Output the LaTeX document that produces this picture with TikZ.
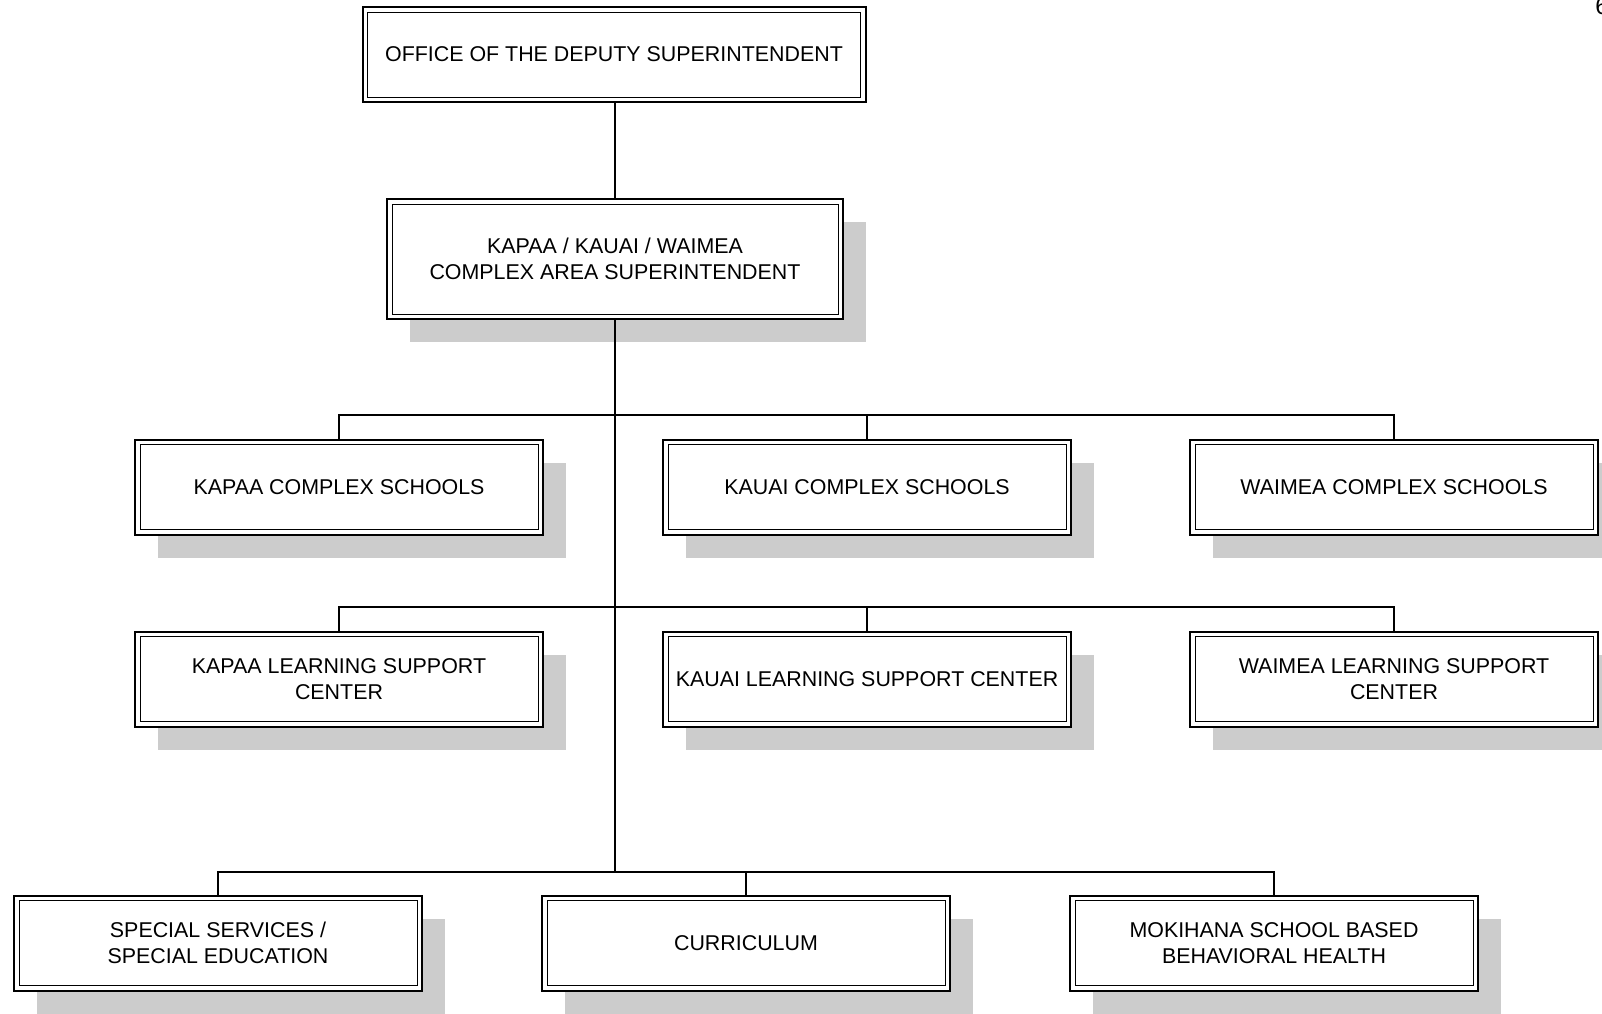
\documentclass[tikz,border=0pt]{standalone}
\usepackage{fontspec}
\setmainfont{Liberation Sans}
\usepackage{tikz}
\usetikzlibrary{positioning,shadows}

\tikzset{
  unit/.style={rectangle, draw, line width=1pt, fill=white, align=center,
    minimum width=204pt, minimum height=47.5pt, inner sep=2pt,
    font=\fontsize{10.7}{12.8}\selectfont,
    path picture={\draw[line width=0.5pt]
      ([shift={(2.5pt,-2.5pt)}]path picture bounding box.north west) rectangle
      ([shift={(-2.5pt,2.5pt)}]path picture bounding box.south east);}},
  shadowed/.style={unit, drop shadow={shadow xshift=11.5pt, shadow yshift=-11.5pt,
    fill=black!20, opacity=1}},
  link/.style={line width=1pt}
}

\begin{document}
\begin{tikzpicture}[x=0.5pt,y=-0.5pt]
  \useasboundingbox (0,0) rectangle (1602,1013);
  \node[font=\fontsize{12}{14}\selectfont, anchor=north west, inner sep=0pt] (pg) at (1595,-3) {6};

  \node[unit, minimum width=251.5pt] (dep) at (614,54.5) {OFFICE OF THE DEPUTY SUPERINTENDENT};
  \node[shadowed, minimum width=228pt, minimum height=60pt] (cas) at (615,259)
    {KAPAA / KAUAI / WAIMEA\\COMPLEX AREA SUPERINTENDENT};

  % complex schools
  \node[shadowed] (kcs) at (339,487) {KAPAA COMPLEX SCHOOLS};
  \node[shadowed] (ucs) at (867,487) {KAUAI COMPLEX SCHOOLS};
  \node[shadowed] (wcs) at (1394,487) {WAIMEA COMPLEX SCHOOLS};

  % learning support centers
  \node[shadowed] (klsc) at (339,679) {KAPAA LEARNING SUPPORT\\CENTER};
  \node[shadowed] (ulsc) at (867,679) {KAUAI LEARNING SUPPORT CENTER};
  \node[shadowed] (wlsc) at (1394,679) {WAIMEA LEARNING SUPPORT\\CENTER};

  % district services
  \node[shadowed] (sped) at (218,943) {SPECIAL SERVICES /\\SPECIAL EDUCATION};
  \node[shadowed] (curr) at (746,943) {CURRICULUM};
  \node[shadowed] (moki) at (1274,943) {MOKIHANA SCHOOL BASED\\BEHAVIORAL HEALTH};

  \coordinate (bus1) at (615,415);
  \coordinate (bus2) at (615,607);
  \coordinate (bus3) at (615,871.5);

  \draw[link] (dep.south -| cas.north) -- (cas.north);
  \draw[link] (cas.south) -- (bus3);
  \foreach \row/\a/\b/\c in {bus1/kcs/ucs/wcs, bus2/klsc/ulsc/wlsc, bus3/sped/curr/moki}
    \draw[link] (\a.north) |- (\row) -| (\c.north)
                (\row -| \b.north) -- (\b.north);
\end{tikzpicture}
\end{document}
